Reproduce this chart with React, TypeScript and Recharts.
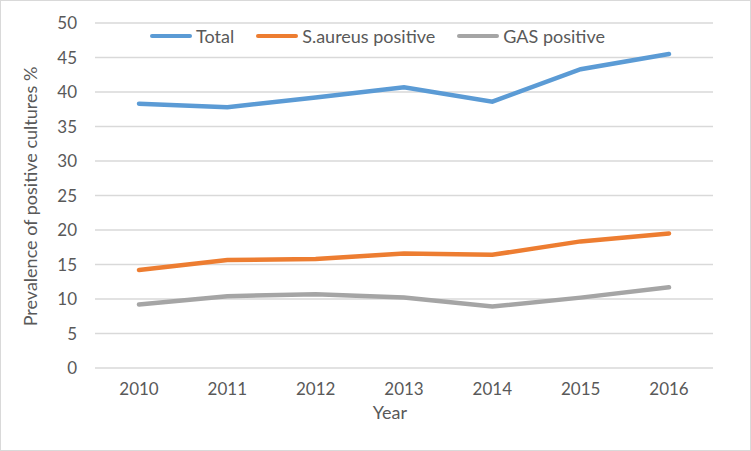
import { LineChart, Line, XAxis, YAxis, CartesianGrid, Legend } from "recharts";

const years = ["2010", "2011", "2012", "2013", "2014", "2015", "2016"];
const total = [38.3, 37.8, 39.2, 40.7, 38.6, 43.3, 45.5];
const saureus = [14.2, 15.65, 15.8, 16.6, 16.4, 18.35, 19.5];
const gas = [9.2, 10.4, 10.7, 10.2, 8.9, 10.2, 11.7];
const yTicks = [0, 5, 10, 15, 20, 25, 30, 35, 40, 45, 50];

const series = [
  { key: "total", name: "Total", color: "#5B9BD5" },
  { key: "saureus", name: "S.aureus positive", color: "#ED7D31" },
  { key: "gas", name: "GAS positive", color: "#A5A5A5" },
];

const data = years.map((year, i) => ({
  year,
  total: total[i],
  saureus: saureus[i],
  gas: gas[i],
}));

const FONT = "Lato, 'Open Sans', sans-serif";
const TEXT = "#595959";
const FS = 17;

const LegendRow = () => (
  <div style={{ display: "flex", justifyContent: "center", gap: 22, fontFamily: FONT, fontSize: 18, color: TEXT }}>
    {series.map((s) => (
      <div key={s.key} style={{ display: "flex", alignItems: "center", gap: 4 }}>
        <span style={{ display: "inline-block", width: 42, height: 4, borderRadius: 2, background: s.color }} />
        <span>{s.name}</span>
      </div>
    ))}
  </div>
);

export default function App() {
  return (
    <div style={{ position: "absolute", left: 0, top: 0, width: 751, height: 451, background: "#fff", border: "1px solid #D9D9D9", boxSizing: "border-box" }}>
      <div style={{ position: "absolute", left: -1, top: -1 }}>
        <LineChart width={751} height={451} data={data} margin={{ top: 23, right: 38, left: 35, bottom: 43 }}>
          <CartesianGrid vertical={false} stroke="#D9D9D9" strokeWidth={1.5} />
          <XAxis
            dataKey="year"
            axisLine={false}
            tickLine={false}
            height={40}
            tickMargin={9}
            padding={{ left: 44, right: 44 }}
            tick={{ fill: TEXT, fontSize: FS, fontFamily: FONT }}
            label={{
              content: (props: any) => {
                const vb = props.viewBox;
                return (
                  <text x={vb.x + vb.width / 2 - 14} y={vb.y + 44} textAnchor="middle" dominantBaseline="central" fill={TEXT} fontSize={18} fontFamily={FONT}>
                    Year
                  </text>
                );
              },
            }}
          />
          <YAxis
            domain={[0, 50]}
            ticks={yTicks}
            axisLine={false}
            tickLine={false}
            width={60}
            tickMargin={12}
            tick={{ fill: TEXT, fontSize: FS, fontFamily: FONT }}
            label={{
              content: (props: any) => {
                const vb = props.viewBox;
                const x = vb.x - 5;
                const y = vb.y + vb.height / 2 + 1;
                return (
                  <text x={x} y={y} transform={`rotate(-90, ${x}, ${y})`} textAnchor="middle" dominantBaseline="central" fill={TEXT} fontSize={18} fontFamily={FONT}>
                    Prevalence of positive cultures %
                  </text>
                );
              },
            }}
          />
          <Legend
            verticalAlign="top"
            content={<LegendRow />}
            wrapperStyle={{ top: 25, left: 0, width: 755, height: 0, overflow: "visible" }}
          />
          {series.map((s) => (
            <Line
              key={s.key}
              type="linear"
              dataKey={s.key}
              name={s.name}
              stroke={s.color}
              strokeWidth={4.5}
              strokeLinecap="round"
              dot={false}
              activeDot={false}
              isAnimationActive={false}
            />
          ))}
        </LineChart>
      </div>
    </div>
  );
}
